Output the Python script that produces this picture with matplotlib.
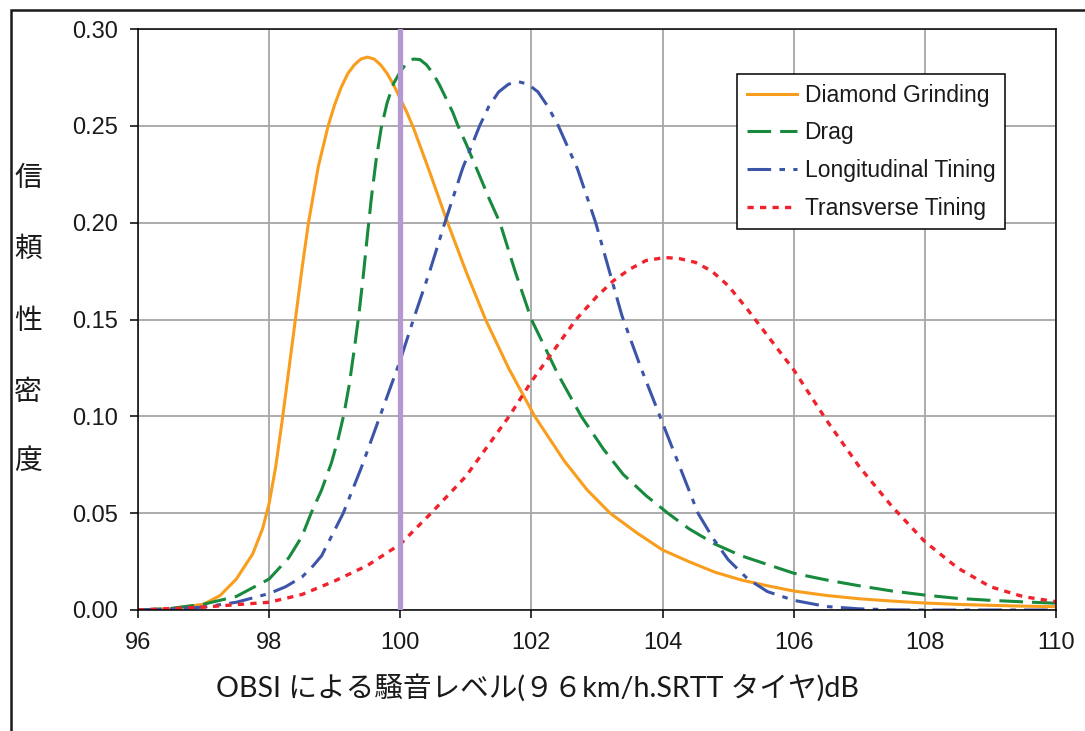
import matplotlib.pyplot as plt
from matplotlib.patches import Rectangle

plt.rcParams['lines.scale_dashes'] = False

# values
dg_x = [96, 96.5, 97, 97.25, 97.5, 97.75, 97.9, 98.0, 98.1, 98.2, 98.3, 98.4, 98.5, 98.6, 98.75,
        98.9, 99.0, 99.1, 99.2, 99.3, 99.4, 99.5, 99.6, 99.7, 99.8, 99.9, 100.0, 100.1, 100.2,
        100.45, 100.7, 101.0, 101.3, 101.65, 102.05, 102.5, 102.85, 103.2, 103.6, 104.0, 104.4,
        104.8, 105.2, 105.6, 106.0, 106.5, 107.0, 107.5, 108.0, 108.5, 109.0, 109.5, 110.0]
dg_y = [0.0, 0.0006, 0.003, 0.0074, 0.016, 0.029, 0.042, 0.055, 0.074, 0.098, 0.124, 0.150, 0.176,
        0.200, 0.229, 0.250, 0.261, 0.270, 0.277, 0.2815, 0.2845, 0.2855, 0.2845, 0.2815, 0.277,
        0.271, 0.264, 0.257, 0.249, 0.226, 0.202, 0.175, 0.150, 0.125, 0.100, 0.077, 0.062, 0.050,
        0.040, 0.031, 0.025, 0.0195, 0.0155, 0.0125, 0.0098, 0.0075, 0.0058, 0.0046, 0.0036,
        0.0029, 0.0024, 0.0020, 0.0017]

drag_x = [96, 96.5, 97, 97.5, 98, 98.3, 98.5, 98.64, 98.8, 98.95, 99.05, 99.14, 99.22, 99.3,
          99.37, 99.44, 99.5, 99.56, 99.63, 99.71, 99.8, 99.9, 100.0, 100.1, 100.2, 100.3, 100.4,
          100.5, 100.6, 100.7, 100.8, 100.88, 101.0, 101.2, 101.36, 101.52, 101.75, 102.0, 102.4,
          102.76, 103.1, 103.4, 103.75, 104.08, 104.4, 104.8, 105.2, 105.6, 106.0, 106.5, 107.0,
          107.5, 108.0, 108.5, 109.0, 109.5, 110.0]
drag_y = [0.0, 0.0008, 0.003, 0.007, 0.016, 0.027, 0.038, 0.050, 0.062, 0.076, 0.088, 0.101, 0.116,
          0.135, 0.153, 0.174, 0.194, 0.213, 0.232, 0.249, 0.262, 0.272, 0.278, 0.2825, 0.2845,
          0.2842, 0.2815, 0.277, 0.271, 0.264, 0.257, 0.250, 0.241, 0.225, 0.212, 0.200, 0.175,
          0.150, 0.122, 0.100, 0.083, 0.070, 0.059, 0.050, 0.042, 0.034, 0.028, 0.0235, 0.019,
          0.0155, 0.0125, 0.0098, 0.0077, 0.0060, 0.0050, 0.0042, 0.0035]

lt_x = [96, 96.5, 97, 97.5, 98, 98.25, 98.5, 98.65, 98.8, 98.95, 99.13, 99.4, 99.69, 100.0, 100.2,
        100.45, 100.68, 100.95, 101.21, 101.35, 101.5, 101.65, 101.8, 101.95, 102.1, 102.25, 102.41,
        102.7, 102.98, 103.18, 103.38, 103.67, 103.96, 104.25, 104.54, 104.77, 105.0, 105.3, 105.6,
        106.0, 106.5, 107.0, 107.5, 108.0, 110.0]
lt_y = [0.0, 0.0004, 0.0015, 0.004, 0.0085, 0.012, 0.017, 0.022, 0.028, 0.038, 0.050, 0.073, 0.100,
        0.129, 0.150, 0.175, 0.200, 0.228, 0.250, 0.260, 0.2675, 0.2715, 0.2728, 0.2715, 0.2675,
        0.260, 0.250, 0.228, 0.200, 0.176, 0.152, 0.125, 0.100, 0.075, 0.050, 0.037, 0.026, 0.016,
        0.0095, 0.005, 0.0018, 0.0006, 0.0001, 0.0, 0.0]

tt_x = [96, 97, 98, 98.5, 99, 99.5, 100.0, 100.47, 101.0, 101.66, 102.0, 102.68, 103.0, 103.25,
        103.5, 103.75, 104.04, 104.25, 104.5, 104.75, 105.0, 105.3, 105.66, 106.0, 106.5, 107.0,
        107.5, 108.0, 108.5, 109.0, 109.5, 110.0]
tt_y = [0.0, 0.0015, 0.004, 0.008, 0.015, 0.023, 0.034, 0.050, 0.069, 0.100, 0.118, 0.150, 0.162,
        0.170, 0.176, 0.1805, 0.182, 0.1815, 0.1795, 0.175, 0.1675, 0.155, 0.139, 0.124, 0.098,
        0.074, 0.0534, 0.0353, 0.0217, 0.012, 0.0069, 0.0043]

series_names = ['Diamond Grinding', 'Drag', 'Longitudinal Tining', 'Transverse Tining']
reference_x = 100
x_ticks = [96, 98, 100, 102, 104, 106, 108, 110]
y_ticks = [0.00, 0.05, 0.10, 0.15, 0.20, 0.25, 0.30]
x_label = 'OBSI による騒音レベル(９６km/h.SRTT タイヤ)dB'
y_label = '信頼性密度'

W, H = 1085, 731
fig = plt.figure(figsize=(W / 100, H / 100), dpi=100)
ax = fig.add_axes([138 / W, 121 / H, 918 / W, 581 / H])

ax.plot(dg_x, dg_y, color='#f99d1c', lw=2.2, label=series_names[0])
ax.plot(drag_x, drag_y, color='#178a3d', lw=2.2, dashes=(17, 6.5), label=series_names[1])
ax.plot(lt_x, lt_y, color='#3d55a8', lw=2.2, dashes=(17, 6, 4, 6), label=series_names[2])
ax.plot(tt_x, tt_y, color='#f0232d', lw=2.4, dashes=(4.5, 4.5), label=series_names[3])
ax.axvline(reference_x, color='#b598d1', lw=3.8, zorder=5)

ax.set_xlim(96, 110)
ax.set_ylim(0, 0.30)
ax.set_xticks(x_ticks)
ax.set_yticks(y_ticks)
ax.set_yticklabels([f'{v:.2f}' for v in y_ticks])
ax.grid(color='#a6a6a6', lw=1.3)
ax.set_axisbelow(True)
for s in ax.spines.values():
    s.set_linewidth(1.1)
    s.set_color('black')
ax.tick_params(direction='out', length=5.8, width=1.1, labelsize=17,
               labelcolor='#1a1a1a')
ax.tick_params(axis='y', pad=8.5)
ax.tick_params(axis='x', pad=10)
for lab in ax.get_xticklabels() + ax.get_yticklabels():
    lab.set_family('Liberation Sans')

leg = ax.legend(loc='upper left', bbox_to_anchor=((737 - 138) / 918, (610 - 74) / 581),
                borderaxespad=0, fancybox=False, framealpha=1, edgecolor='black',
                prop={'family': 'Liberation Sans', 'size': 16.5}, handlelength=2.2,
                handletextpad=0.33, labelspacing=0.64, borderpad=0.42)
leg.get_frame().set_linewidth(1.1)
for t in leg.get_texts():
    t.set_color('#1a1a1a')

fig.text(537 / W, 1 - 688 / H, x_label, ha='center', va='center', fontsize=20.6,
         family=['Lato', 'Noto Sans CJK JP'], color='#1a1a1a')
for ch, yc in zip(y_label, [178, 249, 321, 392, 461]):
    fig.text(28 / W, 1 - yc / H, ch, ha='center', va='center', fontsize=20,
             family=['Noto Sans CJK JP'], color='#1a1a1a')

fig.add_artist(Rectangle((10.5 / W, -0.05), 1.1, 1.05 - 9.5 / H, transform=fig.transFigure,
                         fill=False, edgecolor='#1a1a1a', lw=1.8))

fig.savefig('out.png', dpi=100)
